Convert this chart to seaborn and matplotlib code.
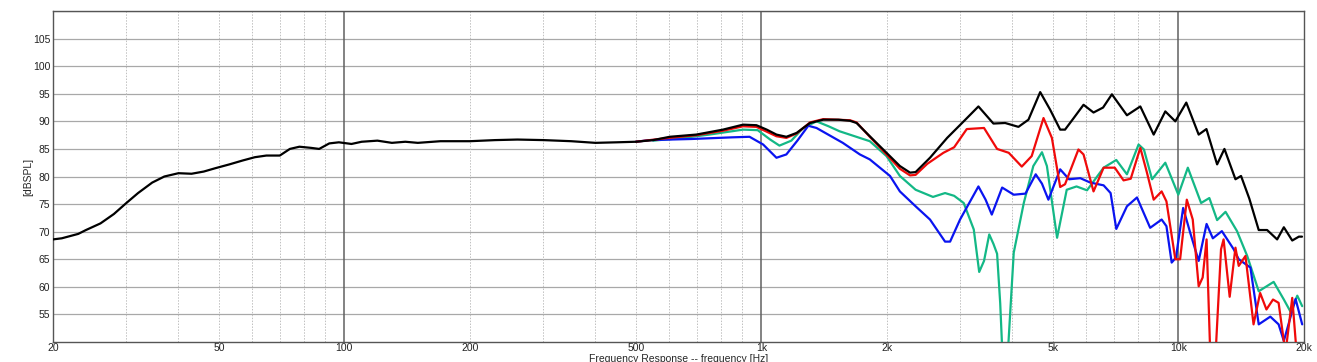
"""Frequency response plot: on-axis + off-axis curves, log frequency axis."""
import numpy as np
import pandas as pd
import matplotlib
matplotlib.use("Agg")
import matplotlib.pyplot as plt
import seaborn as sns

# ---- data (Hz, dB SPL) ----
black_f = [20, 21, 23, 24, 26, 28, 30, 32, 34.6, 37, 40, 43, 46, 49, 53, 57, 61, 65,
           70, 74, 78, 83, 87, 92, 97, 104, 110, 120, 130, 140, 150, 170, 200, 230,
           260, 300, 350, 400, 450, 500, 550, 603, 698, 809, 904, 973, 1030, 1087,
           1148, 1215, 1308, 1407, 1530, 1632, 1692, 1820, 1996, 2149, 2273, 2344,
           2538, 2790, 3057, 3316, 3602, 3843, 4136, 4371, 4664, 4928, 5208, 5350,
           5600, 5925, 6261, 6600, 6930, 7530, 8107, 8728, 9307, 9836, 10450, 11190,
           11680, 12390, 12900, 13710, 14140, 14800, 15590, 16330, 17260, 17910,
           18760, 19460, 19800]
black_db = [68.6, 68.8, 69.6, 70.3, 71.5, 73.2, 75.2, 77.0, 78.9, 80.0, 80.6, 80.5,
            80.9, 81.5, 82.2, 82.9, 83.5, 83.8, 83.8, 85.0, 85.4, 85.2, 85.0, 86.0,
            86.2, 85.9, 86.3, 86.5, 86.1, 86.3, 86.1, 86.4, 86.4, 86.6, 86.7, 86.6,
            86.4, 86.1, 86.2, 86.3, 86.6, 87.2, 87.6, 88.5, 89.4, 89.3, 88.5, 87.6,
            87.2, 87.9, 89.7, 90.3, 90.3, 90.1, 89.7, 87.3, 84.3, 81.9, 80.7, 80.8,
            83.4, 87.0, 90.0, 92.7, 89.6, 89.7, 89.0, 90.3, 95.3, 92.1, 88.5, 88.5,
            90.5, 93.0, 91.6, 92.5, 94.9, 91.1, 92.7, 87.6, 91.8, 90.0, 93.4, 87.6,
            88.6, 82.2, 85.0, 79.5, 80.1, 76.0, 70.3, 70.3, 68.6, 70.8, 68.4, 69.1,
            69.1]

red_f = [500, 600, 700, 809, 904, 973, 1087, 1148, 1215, 1308, 1407, 1632, 1692, 1820,
         1996, 2149, 2273, 2344, 2500, 2733, 2900, 3109, 3420, 3676, 3920, 4213, 4450,
         4750, 4975, 5208, 5350, 5760, 5925, 6261, 6620, 7040, 7390, 7690, 8107, 8410,
         8728, 9120, 9365, 9836, 10100, 10480, 10830, 11190, 11440, 11690, 11950,
         12250, 12660, 12840, 13280, 13710, 13960, 14490, 15150, 15710, 16270, 16870,
         17400, 18070, 18760, 19220, 19800]
red_db = [86.3, 87.0, 87.5, 88.3, 89.1, 89.0, 87.3, 87.0, 87.8, 89.8, 90.4, 90.2, 89.8,
          87.2, 84.0, 81.4, 80.2, 80.3, 82.3, 84.3, 85.3, 88.6, 88.8, 85.0, 84.3, 81.8,
          83.7, 90.6, 87.0, 78.1, 78.6, 84.9, 84.0, 77.3, 81.6, 81.6, 79.3, 79.6, 85.2,
          80.7, 75.8, 77.3, 75.5, 65.0, 65.0, 75.8, 72.2, 60.1, 61.7, 68.6, 46.0, 46.0,
          66.8, 68.6, 58.2, 67.1, 63.8, 65.6, 53.2, 58.9, 55.9, 57.7, 57.1, 48.0, 58.0,
          48.0, 45.0]

green_f = [550, 650, 750, 850, 904, 980, 1050, 1105, 1180, 1260, 1356, 1450, 1540, 1820,
           1996, 2149, 2344, 2580, 2758, 2900, 3057, 3232, 3330, 3420, 3520, 3602, 3676,
           3740, 3800, 3880, 4030, 4260, 4490, 4710, 4840, 5120, 5400, 5700, 6040, 6620,
           7100, 7530, 8030, 8270, 8650, 9307, 10000, 10540, 11340, 11870, 12390, 12980,
           13830, 14630, 15590, 16930, 17910, 18580, 19290, 19820]
green_db = [86.5, 87.0, 87.6, 88.2, 88.5, 88.4, 86.7, 85.6, 86.5, 88.8, 90.0, 89.1, 88.2,
            86.4, 83.7, 80.1, 77.6, 76.3, 77.0, 76.5, 75.2, 70.4, 62.7, 64.7, 69.5, 67.8,
            66.0, 57.0, 45.0, 45.0, 66.2, 75.2, 81.9, 84.4, 81.9, 68.9, 77.6, 78.2, 77.5,
            81.6, 83.0, 80.4, 85.8, 84.9, 79.5, 82.5, 76.7, 81.6, 75.2, 76.1, 72.1, 73.6,
            70.1, 65.6, 59.2, 60.9, 57.7, 55.5, 58.4, 56.5]

blue_f = [500, 540, 680, 850, 937, 1010, 1087, 1148, 1220, 1296, 1356, 1568, 1723, 1820,
          2035, 2149, 2344, 2538, 2758, 2836, 2996, 3316, 3450, 3570, 3780, 4030, 4300,
          4550, 4710, 4880, 5208, 5470, 5820, 6150, 6620, 6880, 7100, 7530, 7960, 8560,
          9120, 9365, 9640, 9870, 10270, 10680, 11190, 11690, 12100, 12720, 13580, 13960,
          14890, 15590, 16620, 17400, 17910, 19110, 19820]
blue_db = [86.3, 86.6, 86.8, 87.1, 87.2, 85.8, 83.4, 84.0, 86.5, 89.2, 88.8, 86.1, 84.0,
           83.1, 80.1, 77.3, 74.6, 72.2, 68.2, 68.2, 72.2, 78.2, 75.8, 73.1, 78.0, 76.7,
           76.9, 80.4, 78.7, 75.8, 81.3, 79.5, 79.7, 78.9, 78.4, 77.0, 70.5, 74.6, 76.2,
           70.7, 72.2, 71.0, 64.4, 65.3, 74.3, 69.8, 64.7, 71.4, 68.8, 70.1, 66.8, 65.0,
           63.5, 53.2, 54.6, 53.2, 50.2, 57.8, 53.2]

x_ticks = [20, 50, 100, 200, 500, 1000, 2000, 5000, 10000, 20000]
x_labels = ["20", "50", "100", "200", "500", "1k", "2k", "5k", "10k", "20k"]
y_ticks = [55, 60, 65, 70, 75, 80, 85, 90, 95, 100, 105]

SERIES = [
    ("green", green_f, green_db, "#13b886"),
    ("blue", blue_f, blue_db, "#0a14f0"),
    ("red", red_f, red_db, "#f00a0a"),
    ("black", black_f, black_db, "#000000"),
]


def main():
    sns.set_style("white")
    plt.rcParams["font.family"] = ["Liberation Sans", "DejaVu Sans"]

    fig = plt.figure(figsize=(13.17, 3.62), dpi=100)
    ax = fig.add_axes([0.0402, 0.0552, 0.9498, 0.9144])
    ax.set_xscale("log")
    ax.set_xlim(20, 20000)
    ax.set_ylim(50, 110)

    # grid: solid horizontals, dark decade lines, dotted minors
    for y in range(55, 111, 5):
        ax.axhline(y, color="#a8a8a8", lw=0.9, zorder=0)
    for dec in (10, 100, 1000, 10000):
        for m in range(2, 10):
            f = dec * m
            if 20 <= f <= 20000:
                ax.axvline(f, color="#c0c0c0", lw=0.7, ls=(0, (1.5, 1.5)), zorder=0)
    for f in (100, 1000, 10000):
        ax.axvline(f, color="#606060", lw=1.1, zorder=0)

    for name, f, db, col in SERIES:
        df = pd.DataFrame({"freq": f, "spl": db})
        sns.lineplot(data=df, x="freq", y="spl", color=col, lw=1.6,
                     estimator=None, sort=False, ax=ax, zorder=3)

    ax.set_xticks(x_ticks)
    ax.set_xticklabels(x_labels)
    ax.xaxis.set_minor_locator(matplotlib.ticker.NullLocator())
    ax.set_yticks(y_ticks)
    ax.tick_params(axis="both", length=0, labelsize=7.5, colors="#222222", pad=2)
    ax.tick_params(axis="x", pad=1)
    ax.set_xlabel("Frequency Response -- frequency [Hz]", fontsize=7.5)
    ax.xaxis.set_label_coords(0.5, -0.036)
    ax.set_ylabel("[dBSPL]", fontsize=7.5)
    ax.yaxis.set_label_coords(-0.016, 0.5)
    for s in ax.spines.values():
        s.set_color("#555555")
        s.set_linewidth(1.0)

    fig.savefig("out.png", dpi=100)
    plt.close(fig)


if __name__ == "__main__":
    main()
